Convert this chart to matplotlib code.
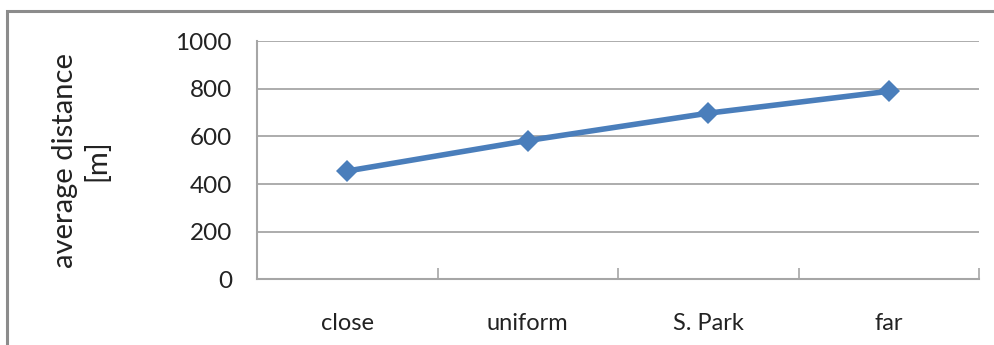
import matplotlib
matplotlib.use("Agg")
import matplotlib.pyplot as plt
from matplotlib.patches import Rectangle
import numpy as np

categories = ["close", "uniform", "S. Park", "far"]
avg_distance = [455, 583, 698, 790]
y_ticks = [0, 200, 400, 600, 800, 1000]

plt.rcParams["font.family"] = ["Lato", "DejaVu Sans"]

fig = plt.figure(figsize=(9.94, 3.45), dpi=100)
ax = fig.add_axes([257 / 994, 65.7 / 345, (979 - 257) / 994, (279.3 - 41.3) / 345])

x = np.arange(len(categories))
ax.plot(x, avg_distance, color="#4A7EBB", linewidth=4, marker="D",
        markersize=11, markeredgewidth=0, zorder=3, solid_capstyle="round")

ax.set_xlim(-0.5, len(categories) - 0.5)
ax.set_ylim(0, 1000)
ax.set_yticks(y_ticks)
ax.set_yticklabels([str(v) for v in y_ticks])
ax.yaxis.grid(True, color="#A6A6A6", linewidth=1.3)
ax.set_axisbelow(True)

# category labels at centres, tick marks on category boundaries
ax.set_xticks(np.arange(len(categories) + 1) - 0.5)
ax.set_xticklabels([])
ax.set_xticks(x, minor=True)
ax.set_xticklabels(categories, minor=True)
ax.tick_params(axis="x", which="major", direction="in", length=8,
               color="#A6A6A6", width=1.2)
ax.tick_params(axis="x", which="minor", length=0, pad=24, labelsize=17,
               labelcolor="#222222")
ax.tick_params(axis="y", length=0, pad=18, labelsize=17.5, labelcolor="#222222")

for side in ("top", "right"):
    ax.spines[side].set_visible(False)
for side in ("left", "bottom"):
    ax.spines[side].set_color("#A6A6A6")
    ax.spines[side].set_linewidth(1.5)

ax.set_ylabel("average distance\n[m]", fontsize=21, color="#222222",
              linespacing=1.25, va="center", ha="center")
ax.yaxis.set_label_coords(-0.244, 0.5)

# chart frame
fig.patches.append(Rectangle((7 / 994, -0.2), 1.2, (345 - 11) / 345 + 0.2,
                             transform=fig.transFigure, fill=False,
                             edgecolor="#8C8C8C", linewidth=2.2))

fig.savefig("out.png", dpi=100)
